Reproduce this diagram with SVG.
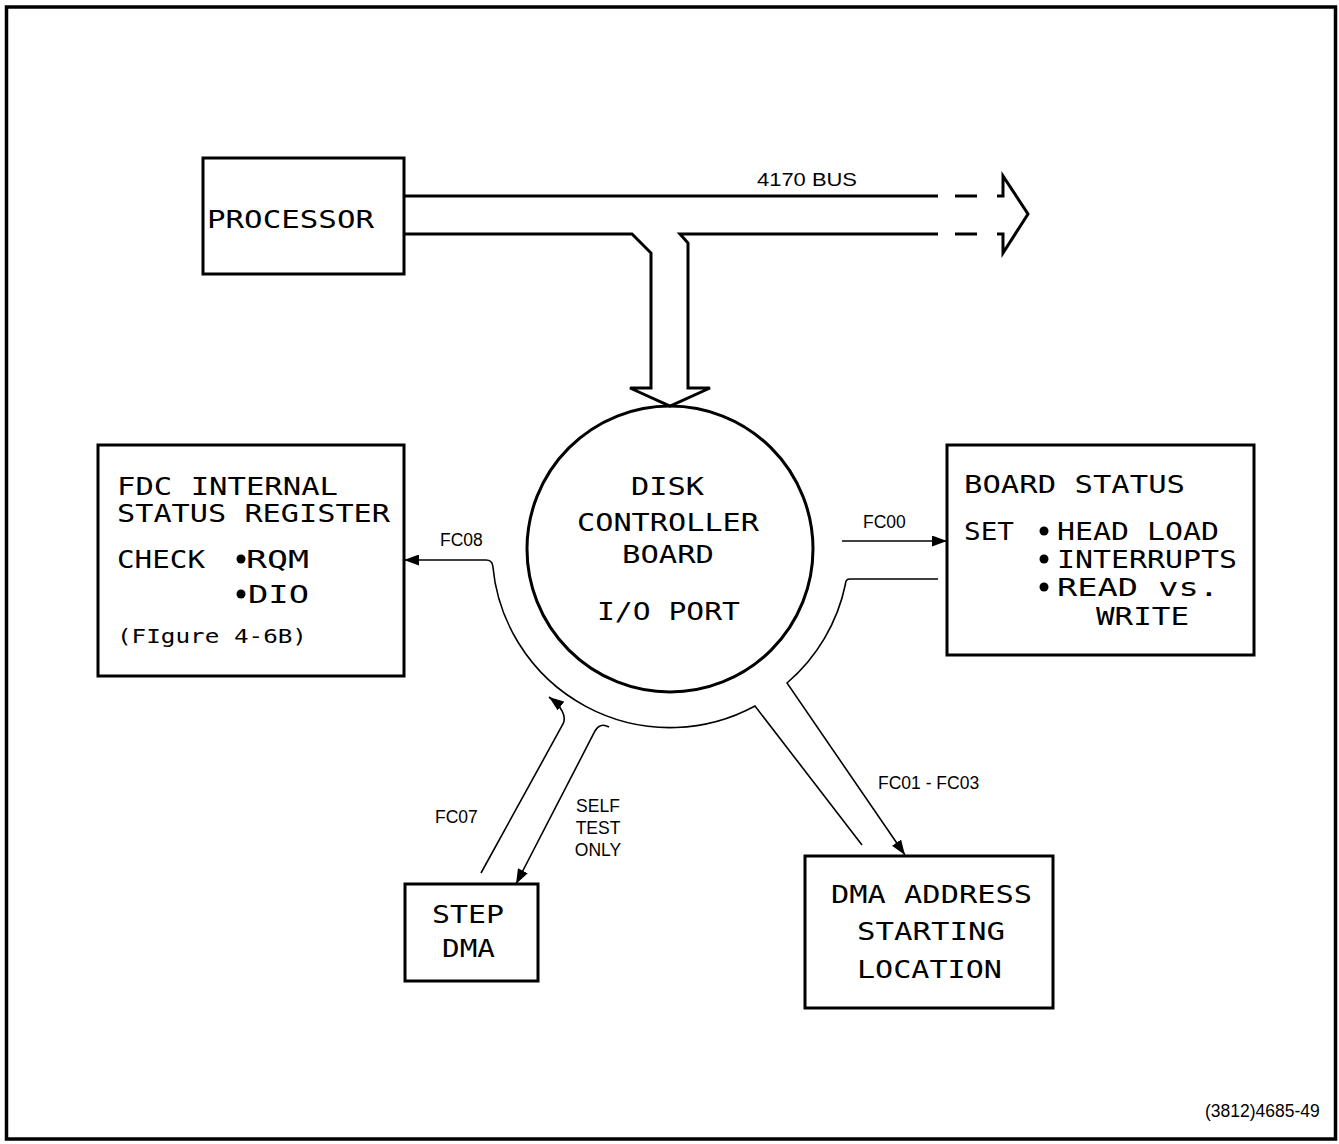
<svg xmlns="http://www.w3.org/2000/svg" width="1339" height="1144" viewBox="0 0 1339 1144">
<defs>
<marker id="arr" markerUnits="userSpaceOnUse" markerWidth="15" markerHeight="11" refX="15" refY="5.5" orient="auto">
<path d="M0,0 L15,5.5 L0,11 z" fill="#000"/>
</marker>
<style>
.box{fill:none;stroke:#000;stroke-width:3}
.bus{fill:none;stroke:#000;stroke-width:3;stroke-linejoin:miter}
.thin{fill:none;stroke:#000;stroke-width:1.6}
.dot{fill:#000}
.big{font-family:"DejaVu Sans Mono","Liberation Mono",monospace;font-size:25.5px;fill:#000}
.mid{font-family:"DejaVu Sans Mono","Liberation Mono",monospace;font-size:20px;fill:#000}
.sm{font-family:"Liberation Sans",Arial,sans-serif;font-size:17.5px;fill:#000}
</style>
</defs>
<rect x="0" y="0" width="1339" height="1144" fill="#fff"/>
<rect x="6.5" y="7" width="1329" height="1132" fill="none" stroke="#000" stroke-width="3.5"/>

<g id="processor">
<rect class="box" x="203" y="158" width="201" height="116"/>
<text class="big" x="207" y="228" textLength="167" lengthAdjust="spacingAndGlyphs">PROCESSOR</text>
</g>

<g id="disk-controller">
<circle class="box" cx="670" cy="549" r="143"/>
<text class="big" x="631" y="495" textLength="73" lengthAdjust="spacingAndGlyphs">DISK</text>
<text class="big" x="577" y="531" textLength="182" lengthAdjust="spacingAndGlyphs">CONTROLLER</text>
<text class="big" x="622" y="563" textLength="92" lengthAdjust="spacingAndGlyphs">BOARD</text>
<text class="big" x="597" y="620" textLength="143" lengthAdjust="spacingAndGlyphs">I/O PORT</text>
</g>

<g id="fdc-status">
<rect class="box" x="98" y="445" width="306" height="231"/>
<text class="big" x="117" y="495" textLength="221" lengthAdjust="spacingAndGlyphs">FDC INTERNAL</text>
<text class="big" x="117" y="522" textLength="273" lengthAdjust="spacingAndGlyphs">STATUS REGISTER</text>
<text class="big" x="117" y="568" textLength="88" lengthAdjust="spacingAndGlyphs">CHECK</text>
<circle class="dot" cx="241" cy="559" r="4.5"/>
<text class="big" x="246" y="568" textLength="63" lengthAdjust="spacingAndGlyphs">RQM</text>
<circle class="dot" cx="241" cy="594" r="4.5"/>
<text class="big" x="248" y="603" textLength="61" lengthAdjust="spacingAndGlyphs">DIO</text>
<text class="mid" x="117" y="643" textLength="190" lengthAdjust="spacingAndGlyphs">(FIgure 4-6B)</text>
</g>

<g id="board-status">
<rect class="box" x="947" y="445" width="307" height="210"/>
<text class="big" x="964" y="493" textLength="221" lengthAdjust="spacingAndGlyphs">BOARD STATUS</text>
<text class="big" x="964" y="540" textLength="50" lengthAdjust="spacingAndGlyphs">SET</text>
<circle class="dot" cx="1044" cy="531" r="4.5"/>
<text class="big" x="1057" y="540" textLength="162" lengthAdjust="spacingAndGlyphs">HEAD LOAD</text>
<circle class="dot" cx="1044" cy="559" r="4.5"/>
<text class="big" x="1057" y="568" textLength="180" lengthAdjust="spacingAndGlyphs">INTERRUPTS</text>
<circle class="dot" cx="1044" cy="587" r="4.5"/>
<text class="big" x="1057" y="596" textLength="162" lengthAdjust="spacingAndGlyphs">READ vs.</text>
<text class="big" x="1096" y="625" textLength="93" lengthAdjust="spacingAndGlyphs">WRITE</text>
</g>

<g id="step-dma">
<rect class="box" x="405" y="884" width="133" height="97"/>
<text class="big" x="432" y="923" textLength="72" lengthAdjust="spacingAndGlyphs">STEP</text>
<text class="big" x="442" y="957" textLength="53" lengthAdjust="spacingAndGlyphs">DMA</text>
</g>

<g id="dma-address">
<rect class="box" x="805" y="856" width="248" height="152"/>
<text class="big" x="831" y="903" textLength="201" lengthAdjust="spacingAndGlyphs">DMA ADDRESS</text>
<text class="big" x="857" y="940" textLength="148" lengthAdjust="spacingAndGlyphs">STARTING</text>
<text class="big" x="857" y="978" textLength="145" lengthAdjust="spacingAndGlyphs">LOCATION</text>
</g>

<g id="connectors">
<path class="bus" d="M404 196 H938"/>
<path class="bus" d="M955 196 H977 M955 234 H977"/>
<path class="bus" d="M997 196 H1003 V176 L1028 214 L1003 253 V234 H997"/>
<path class="bus" d="M404 234 H632 L651 253 V388 H630 L670 406 L710 388 H688 V243 L680 234 H938"/>
<text class="sm" x="757" y="186" textLength="100" lengthAdjust="spacingAndGlyphs">4170 BUS</text>

<path class="thin" d="M862 845 L755 706 A178 178 0 0 1 492.8 566 Q492 560 486 560 L404 560" marker-end="url(#arr)"/>
<text class="sm" x="440" y="546">FC08</text>

<path class="thin" d="M842 541 H947" marker-end="url(#arr)"/>
<text class="sm" x="863" y="528">FC00</text>

<path class="thin" d="M938 579 H850 Q845.5 579 845.5 584 A178 178 0 0 1 787 683 L905 855" marker-end="url(#arr)"/>
<text class="sm" x="878" y="789">FC01 - FC03</text>

<path class="thin" d="M481 873 L563 724 C567 716 561 706 549 697" marker-end="url(#arr)"/>
<text class="sm" x="435" y="823">FC07</text>

<path class="thin" d="M609 727 Q600 722 595 731 L516 884" marker-end="url(#arr)"/>
<text class="sm" x="598" y="812" text-anchor="middle">SELF</text>
<text class="sm" x="598" y="834" text-anchor="middle">TEST</text>
<text class="sm" x="598" y="856" text-anchor="middle">ONLY</text>
</g>

<text class="sm" x="1205" y="1117">(3812)4685-49</text>
</svg>
